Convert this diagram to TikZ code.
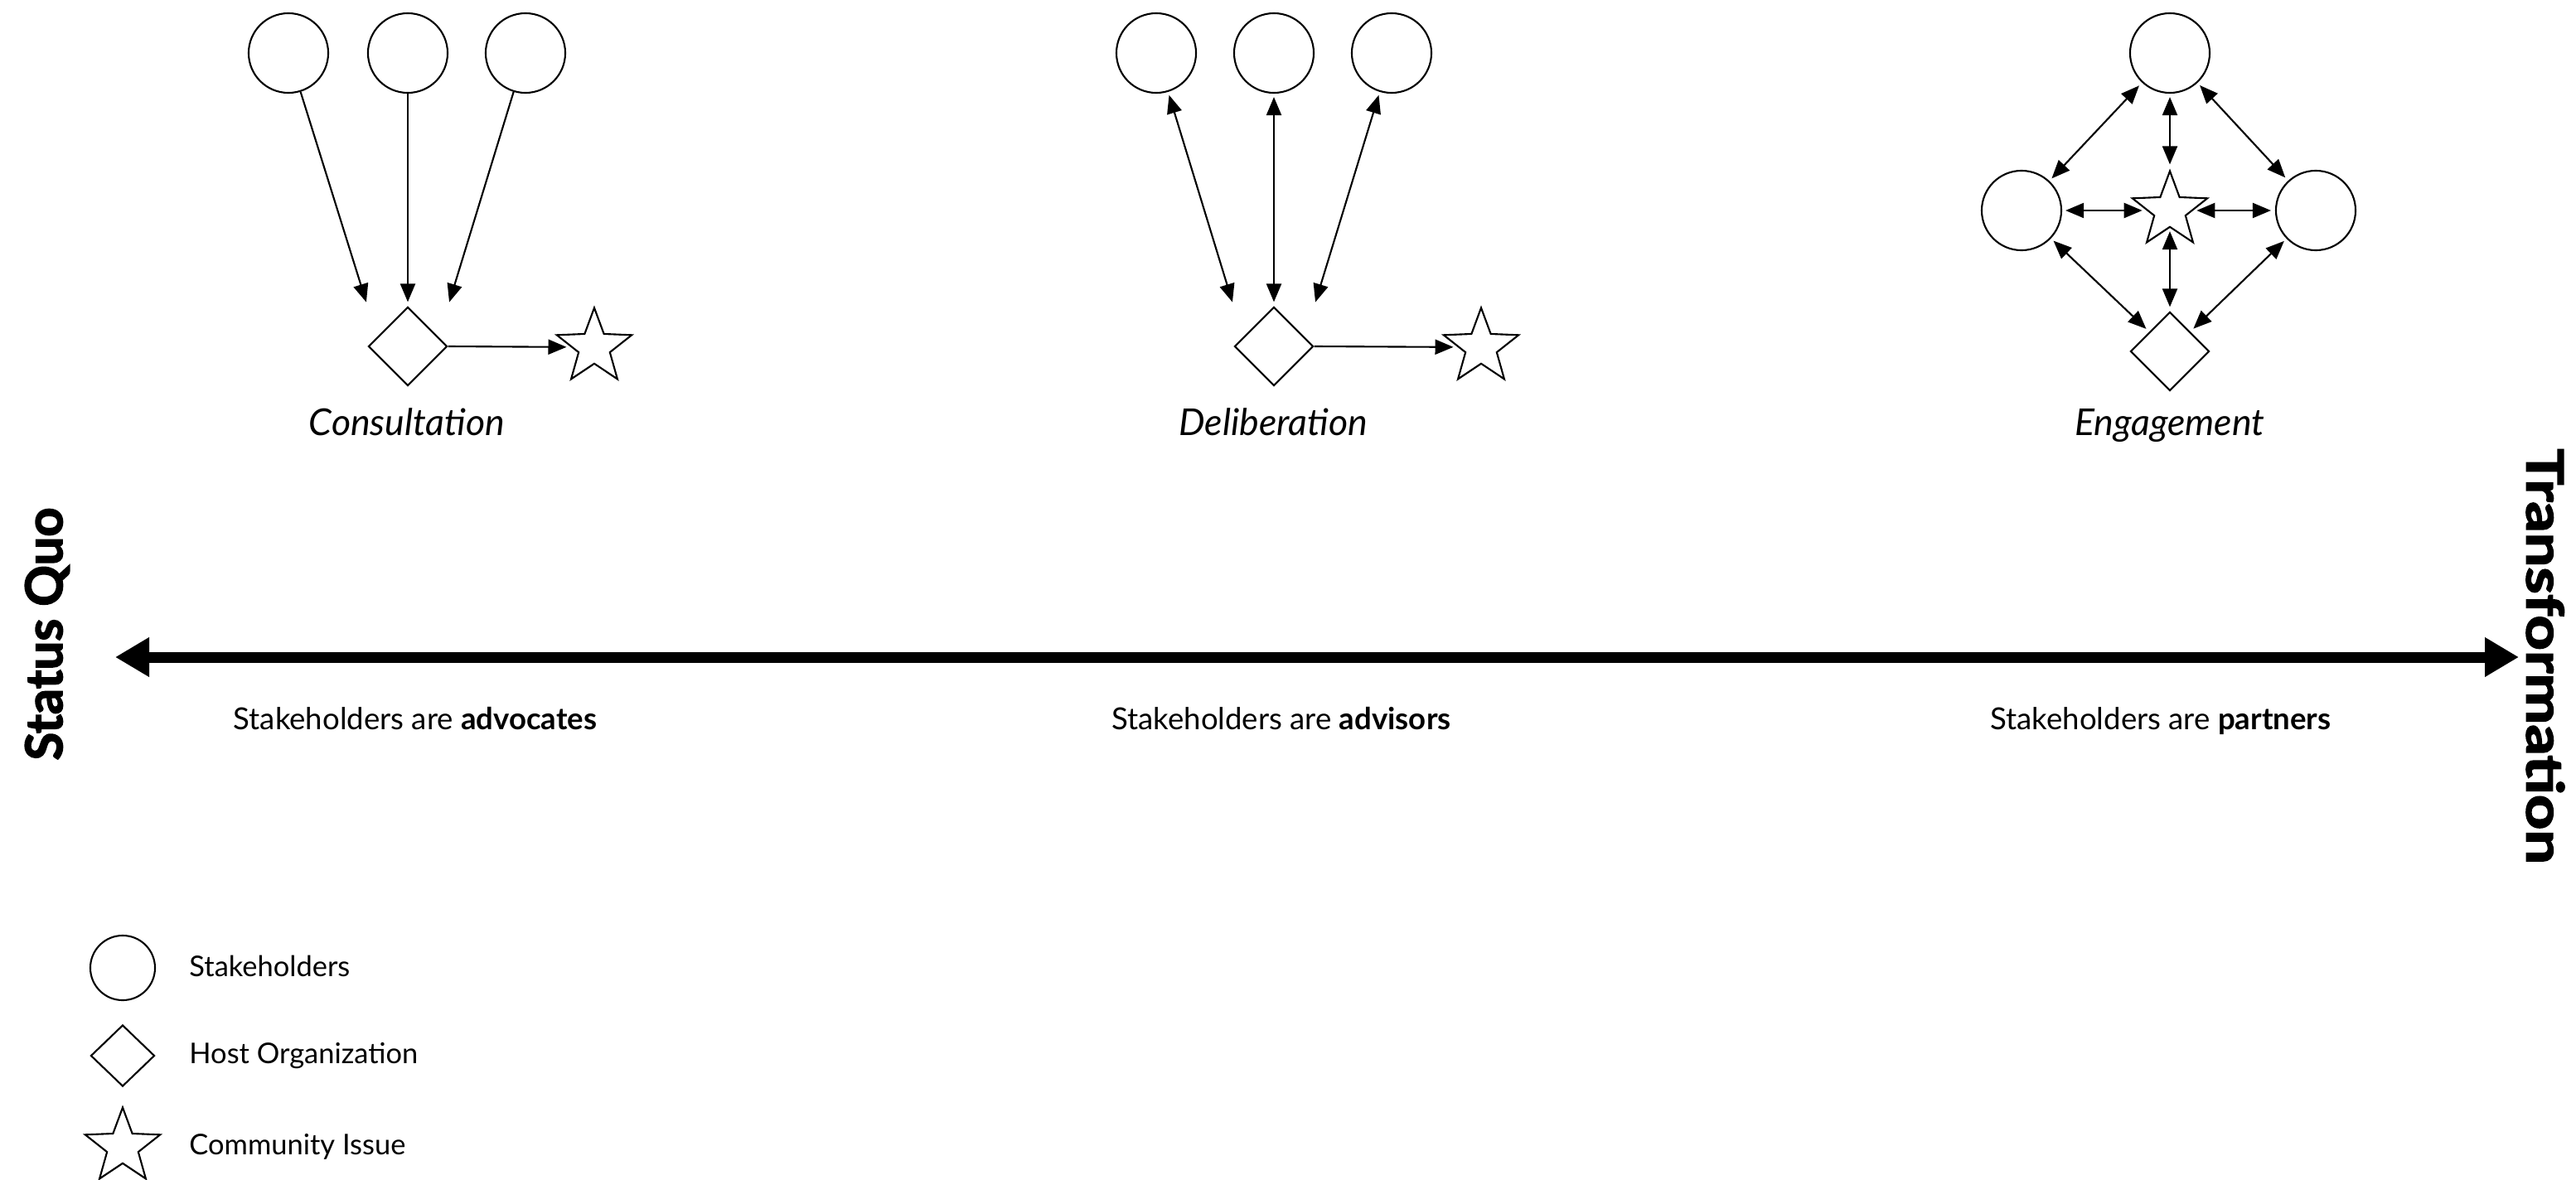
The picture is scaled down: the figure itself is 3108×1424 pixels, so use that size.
\documentclass[tikz,border=0pt]{standalone}
\usepackage{fontspec}
\setmainfont{Lato}
\newfontfamily\heavy[BoldFeatures={FakeBold=2.5}]{Lato}
\usetikzlibrary{shapes.geometric,arrows.meta}
\tikzset{
  smtip/.tip={Triangle[length=0.22cm,width=0.18cm]},
  bigtip/.tip={Triangle[length=0.41cm,width=0.45cm]},
  stake/.style={draw, circle, minimum size=0.96cm, inner sep=0pt, line width=0.6pt},
  legstake/.style={draw, circle, minimum size=0.78cm, inner sep=0pt, line width=0.6pt},
  host/.style={draw, diamond, minimum width=0.95cm, minimum height=0.95cm, inner sep=0pt, line width=0.6pt},
  leghost/.style={draw, diamond, minimum width=0.77cm, minimum height=0.74cm, inner sep=0pt, line width=0.6pt},
  issue/.style={draw, star, star points=5, star point ratio=2.4, minimum size=0.95cm, inner sep=0pt, line width=0.6pt},
  legissue/.style={issue, minimum size=0.95cm},
  arr/.style={-smtip, line width=0.6pt, shorten >=0.05cm},
  darr/.style={smtip-smtip, line width=0.6pt, shorten >=0.05cm, shorten <=0.04cm},
  axis/.style={bigtip-bigtip, line width=0.13cm},
  title/.style={anchor=base, font=\fontsize{12.7pt}{15pt}\selectfont\itshape},
  sub/.style={anchor=base, font=\fontsize{10.4pt}{12pt}\selectfont},
  legtext/.style={anchor=base west, font=\fontsize{9.8pt}{12pt}\selectfont},
  side/.style={anchor=center, font=\fontsize{17.5pt}{20pt}\selectfont\heavy\bfseries}
}
\begin{document}
\begin{tikzpicture}[x=0.01cm, y=-0.01cm]
\useasboundingbox (0,0) rectangle (3108,1424);
% Consultation
\node[stake] (c1) at (348,64) {};
\node[stake] (c2) at (492,64) {};
\node[stake] (c3) at (634,64) {};
\node[host] (cd) at (492,418) {};
\node[issue] (cs) at (717,419) {};
\draw[arr] (c1) -- (cd.west |- cd.north);
\draw[arr] (c2) -- (cd.north);
\draw[arr] (c3) -- (cd.east |- cd.north);
\draw[arr] (cd.east) -- (cs);
\node[title] (ct) at (491,525) {Consultation};
% Deliberation
\node[stake] (d1) at (1395,64) {};
\node[stake] (d2) at (1537,64) {};
\node[stake] (d3) at (1679,64) {};
\node[host] (dd) at (1537,418) {};
\node[issue] (ds) at (1787,419) {};
\draw[darr] (d1) -- (dd.west |- dd.north);
\draw[darr] (d2) -- (dd.north);
\draw[darr] (d3) -- (dd.east |- dd.north);
\draw[arr] (dd.east) -- (ds);
\node[title] (dt) at (1536,525) {Deliberation};
% Engagement
\node[stake] (eT) at (2618,64) {};
\node[stake] (eL) at (2439,254) {};
\node[stake] (eR) at (2794,254) {};
\node[issue] (eS) at (2618,254) {};
\node[host] (eD) at (2618,424) {};
\draw[darr] (eL) -- (eT);
\draw[darr] (eT) -- (eR);
\draw[darr] (eL) -- (eS);
\draw[darr] (eS) -- (eR);
\draw[darr] (eT) -- (eS);
\draw[darr] (eS) -- (eD);
\draw[darr] (eL) -- (eD);
\draw[darr] (eR) -- (eD);
\node[title] (et) at (2618,525) {Engagement};
% axis
\coordinate (axL) at (139,793);
\coordinate (axR) at (3039,793);
\draw[axis] (axL) -- (axR);
\node[side, rotate=90] (sq) at (57,765) {Status Quo};
\node[side, rotate=-90] (tf) at (3071,792) {\scalebox{1.2}[1]{Transformation}};
\node[sub] (s1) at (501,880) {Stakeholders are \textbf{advocates}};
\node[sub] (s2) at (1546,880) {Stakeholders are \textbf{advisors}};
\node[sub] (s3) at (2607,880) {Stakeholders are \textbf{partners}};
% legend
\node[legstake] (l1) at (148,1168) {};
\node[leghost] (l2) at (148,1274) {};
\node[legissue] (l3) at (148,1384) {};
\node[legtext] (lt1) at (216,1178) {Stakeholders};
\node[legtext] (lt2) at (216,1283) {Host Organization};
\node[legtext] (lt3) at (216,1393) {Community Issue};
\end{tikzpicture}
\end{document}
